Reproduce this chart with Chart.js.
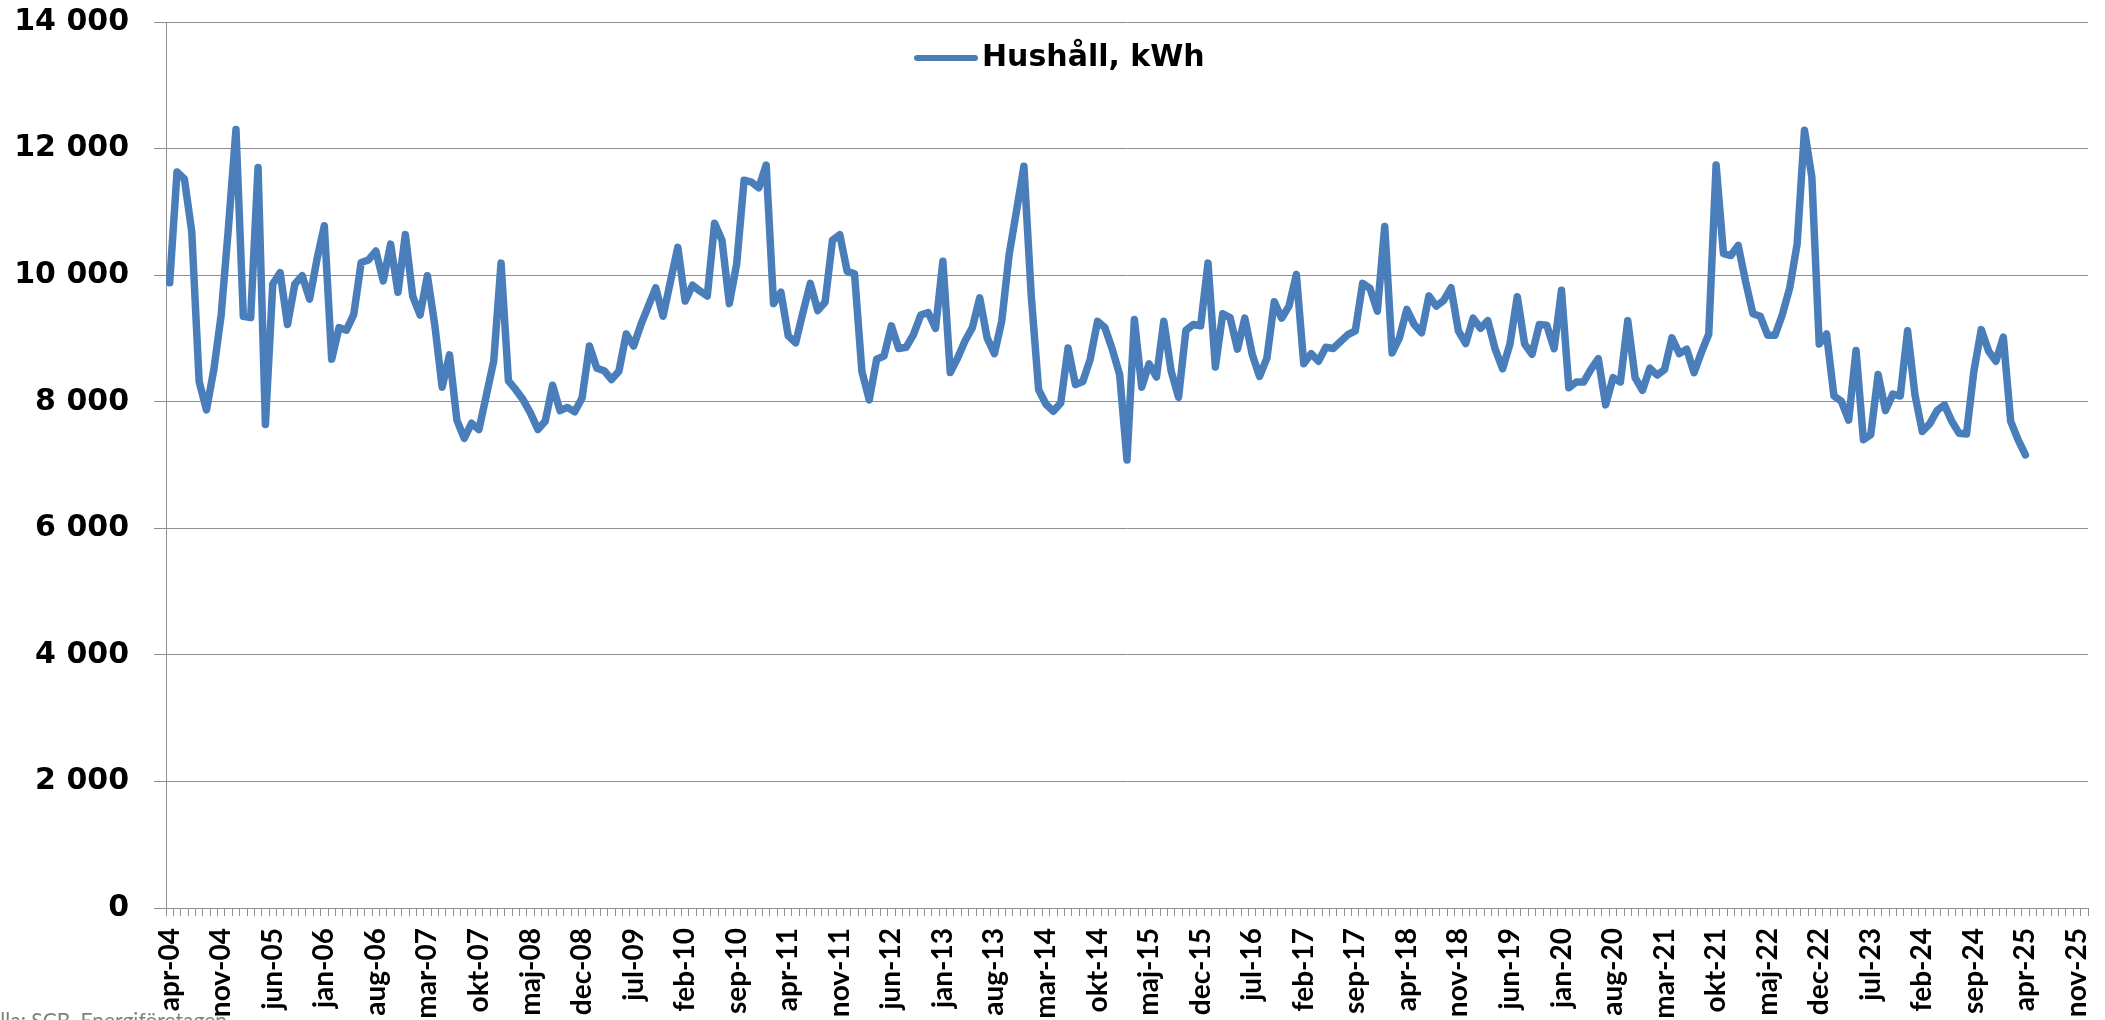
<!DOCTYPE html>
<html lang="sv">
<head>
<meta charset="utf-8">
<title>Hushåll, kWh</title>
<script src="https://cdn.jsdelivr.net/npm/chart.js@4.4.1/dist/chart.umd.min.js"></script>
<style>
  html, body { margin:0; padding:0; background:#fff; overflow:hidden; }
  #wrap { position:relative; width:2105px; height:1020px; }
</style>
</head>
<body>
<div id="wrap"><canvas id="elChart"></canvas></div>
<script>
/* ============================================
   DATA
============================================ */
const monthNames = ["jan","feb","mar","apr","maj","jun","jul","aug","sep","okt","nov","dec"];
const firstYear = 2004;
const firstMonth = 3;      // apr
const monthCount = 261;    // axis runs apr-04 .. dec-25
const labelStep = 7;       // a label every 7th month

const seriesLabel = "Hushåll, kWh";
const sourceText = "Källa: SCB, Energiföretagen";

// monthly values, apr-04 .. apr-25
const hushall = [
  9880, 11630, 11520, 10680, 8320, 7870, 8510, 9380, 10780,           // apr-04 .. dec-04
  12300, 9350, 9330, 11700, 7640, 9860, 10040, 9220, 9860, 9990, 9620, 10250,
  10780, 8670, 9170, 9130, 9380, 10200, 10240, 10380, 9910, 10490, 9730, 10640,
  9670, 9370, 9990, 9210, 8230, 8740, 7710, 7420, 7660, 7560, 8100, 8640,
  10190, 8330, 8190, 8030, 7820, 7560, 7690, 8260, 7860, 7910, 7840, 8060,
  8880, 8530, 8490, 8350, 8480, 9070, 8880, 9220, 9510, 9800, 9350, 9900,
  10440, 9590, 9840, 9750, 9670, 10820, 10550, 9550, 10180, 11500, 11470, 11380,
  11740, 9550, 9730, 9040, 8930, 9410, 9870, 9440, 9570, 10550, 10640, 10060,
  10020, 8480, 8030, 8670, 8720, 9200, 8840, 8860, 9060, 9370, 9410, 9160,
  10220, 8460, 8690, 8960, 9170, 9640, 9010, 8760, 9280, 10330, 11020, 11720,
  9670, 8190, 7960, 7850, 7980, 8850, 8270, 8320, 8670, 9270, 9170, 8830,
  8430, 7080, 9300, 8230, 8600, 8390, 9270, 8480, 8070, 9130, 9220, 9200,
  10190, 8550, 9390, 9330, 8830, 9320, 8750, 8400, 8690, 9580, 9320, 9510,
  10010, 8600, 8760, 8640, 8860, 8840, 8950, 9060, 9120, 9870, 9790, 9430,
  10770, 8770, 9010, 9460, 9220, 9090, 9670, 9510, 9600, 9800, 9120, 8920,
  9320, 9160, 9280, 8830, 8520, 8910, 9660, 8910, 8750, 9220, 9210, 8840,
  9760, 8220, 8310, 8310, 8510, 8680, 7950, 8380, 8310, 9280, 8380, 8180,
  8530, 8420, 8510, 9010, 8760, 8830, 8460, 8780, 9070, 11740, 10340, 10310,
  10470, 9900, 9390, 9350, 9050, 9050, 9380, 9800, 10490, 12290, 11550, 8910,
  9070, 8090, 8010, 7710, 8810, 7400, 7480, 8430, 7860, 8120, 8090, 9120,
  8110, 7530, 7650, 7860, 7950, 7690, 7500, 7490, 8480, 9140, 8800, 8640,
  9020, 7690, 7400, 7160                                               // jan-25 .. apr-25
];

const yMin = 0;
const yMax = 14000;
const yStep = 2000;

/* ============================================
   STYLE
============================================ */
const lineColor = "#4a7ebb";
const gridColor = "#8e8e8e";

/* ============================================
   HELPERS
============================================ */
const months = [];
for(let k = 0; k < monthCount; k++){
  const m = (firstMonth + k) % 12;
  const y = firstYear + Math.floor((firstMonth + k) / 12);
  months.push(monthNames[m] + "-" + String(y).slice(2));
}

function fmt(v){
  return String(v).replace(/\B(?=(\d{3})+(?!\d))/g, " ");
}

// legend inside the plot + source note at the bottom
const notesPlugin = {
  id: "notes",
  afterDraw(chart){
    const ctx = chart.ctx;
    ctx.save();
    ctx.strokeStyle = lineColor;
    ctx.lineWidth = 6;
    ctx.lineCap = "round";
    ctx.beginPath();
    ctx.moveTo(917, 58);
    ctx.lineTo(975, 58);
    ctx.stroke();

    ctx.fillStyle = "#000";
    ctx.font = "bold 30px 'DejaVu Sans'";
    ctx.textBaseline = "middle";
    ctx.fillText(seriesLabel, 982, 58);

    ctx.fillStyle = "#7f7f7f";
    ctx.font = "21px Lato";
    ctx.textBaseline = "alphabetic";
    ctx.fillText(sourceText, -24, 1028);
    ctx.restore();
  }
};

/* ============================================
   CHART
============================================ */
new Chart(document.getElementById("elChart"), {
  type: "line",
  data: {
    labels: months,
    datasets: [{
      label: seriesLabel,
      data: hushall,
      borderColor: lineColor,
      backgroundColor: lineColor,
      borderWidth: 7.5,
      borderJoinStyle: "round",
      borderCapStyle: "round",
      pointRadius: 0,
      tension: 0,
      fill: false
    }]
  },
  options: {
    responsive: true,
    maintainAspectRatio: false,
    animation: false,
    layout: { padding: { top: 22, right: 17, left: 0, bottom: 0 } },
    plugins: {
      legend: { display: false },
      tooltip: { enabled: false }
    },
    scales: {
      x: {
        offset: true,
        grid: { offset: true, drawOnChartArea: false, drawTicks: true, tickLength: 8, color: gridColor, lineWidth: 1 },
        border: { color: gridColor, width: 1 },
        ticks: {
          autoSkip: false,
          maxRotation: 90,
          minRotation: 90,
          padding: 12,
          color: "#000",
          font: { family: "Lato", weight: "bold", size: 28 },
          callback: (v, i) => (i % labelStep === 0 ? months[i] : "")
        },
        afterFit: s => { s.height = 112; s.paddingLeft = 0; s.paddingRight = 0; }
      },
      y: {
        min: yMin,
        max: yMax,
        ticks: {
          stepSize: yStep,
          padding: 25,
          color: "#000",
          font: { family: "DejaVu Sans", weight: "bold", size: 30 },
          callback: v => fmt(v)
        },
        grid: { color: gridColor, lineWidth: 1, tickLength: 12 },
        border: { color: gridColor, width: 1 },
        afterFit: s => { s.width = 166; s.paddingTop = 0; s.paddingBottom = 0; }
      }
    }
  },
  plugins: [notesPlugin]
});
</script>
</body>
</html>
